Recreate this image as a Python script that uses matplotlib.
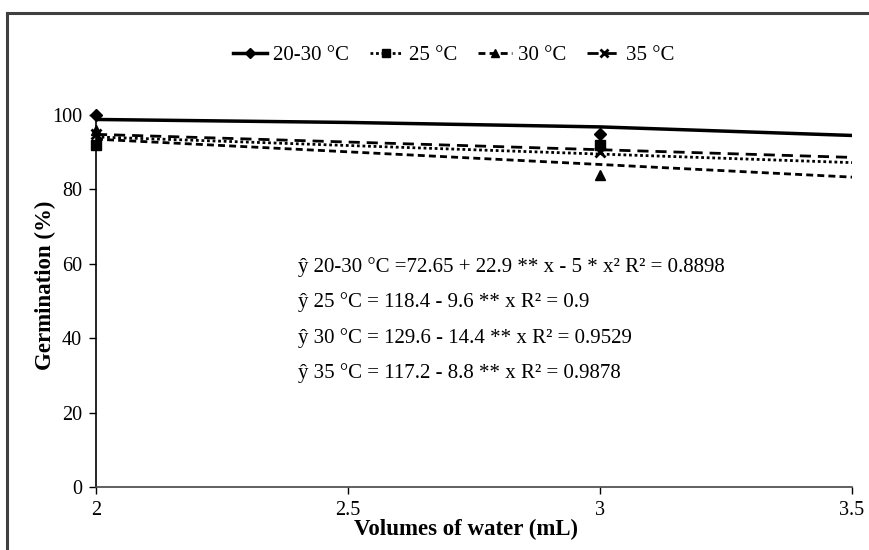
import matplotlib
matplotlib.use("Agg")
import matplotlib.pyplot as plt
from matplotlib.lines import Line2D

plt.rcParams["font.family"] = ["Liberation Serif", "DejaVu Serif"]

# observed germination (%) by volume of water (mL)
volumes = [2, 3]
germ_2030 = [100, 95]
germ_25 = [92, 92]
germ_30 = [96, 84]
germ_35 = [95, 90]

# trendlines
trend_x = [2, 2.5, 3, 3.5]
trend_2030 = [98.8, 98.0, 96.8, 94.5]
trend_x_lin = [2, 3.5]
trend_25 = [94.1, 87.2]
trend_30 = [93.5, 83.3]
trend_35 = [94.8, 88.6]

labels = ["20-30 °C", "25 °C", "30 °C", "35 °C"]
equations = [
    "ŷ 20-30 °C =72.65 + 22.9 ** x - 5 * x² R² = 0.8898",
    "ŷ 25 °C = 118.4 - 9.6 ** x R² = 0.9",
    "ŷ 30 °C = 129.6 - 14.4 ** x R² = 0.9529",
    "ŷ 35 °C = 117.2 - 8.8 ** x R² = 0.9878",
]

W, H = 869, 550
fig = plt.figure(figsize=(W / 100, H / 100), dpi=100)
ax = fig.add_axes([96 / W, 1 - 487 / H, (852 - 96) / W, (487 - 115) / H])

styles = [
    dict(ls="-", lw=2.5, marker="D", ms=6),
    dict(ls=(0, (1, 1.0)), lw=2.0, marker="s", ms=7),
    dict(ls=(0, (2.5, 1.5)), lw=2.0, marker="^", ms=7),
    dict(ls=(0, (4, 2.5)), lw=2.0, marker="x", ms=7),
]

ax.plot(trend_x, trend_2030, color="black", ls=styles[0]["ls"], lw=styles[0]["lw"])
ax.plot(trend_x_lin, trend_25, color="black", ls=styles[1]["ls"], lw=styles[1]["lw"])
ax.plot(trend_x_lin, trend_30, color="black", ls=styles[2]["ls"], lw=styles[2]["lw"])
ax.plot(trend_x_lin, trend_35, color="black", ls=styles[3]["ls"], lw=styles[3]["lw"])

for ys, st in zip([germ_2030, germ_25, germ_30, germ_35], styles):
    ax.plot(volumes, ys, ls="none", marker=st["marker"], ms=st["ms"],
            color="black", mew=2 if st["marker"] == "x" else 1, clip_on=False, zorder=5)

ax.set_xlim(2, 3.5)
ax.set_ylim(0, 100)
ax.set_xticks([2, 2.5, 3, 3.5])
ax.set_xticklabels(["2", "2.5", "3", "3.5"])
ax.set_yticks([0, 20, 40, 60, 80, 100])
ax.tick_params(direction="out", length=5, width=1, labelsize=14.5, pad=5)
for s in ["top", "right"]:
    ax.spines[s].set_visible(False)
ax.spines["left"].set_linewidth(1.2)
ax.spines["bottom"].set_linewidth(1.2)
ax.spines["bottom"].set_color("#444444")

ax.set_xlabel("Volumes of water (mL)", fontsize=16.5, fontweight="bold")
ax.set_ylabel("Germination (%)", fontsize=16.5, fontweight="bold")
ax.xaxis.set_label_coords((466 - 96) / 756, (487 - 529) / 372)
ax.yaxis.set_label_coords((45 - 96) / 756, (487 - 285) / 372)
ax.xaxis.label.set_va("center")
ax.yaxis.label.set_va("center")

for i, eq in enumerate(equations):
    fig.text(298 / W, 1 - (267 + i * 35.5) / H, eq, fontsize=15, va="center", ha="left")

handles = [Line2D([], [], color="black", ls=st["ls"], lw=st["lw"], marker=st["marker"],
                  ms=st["ms"] - 1, mew=2 if st["marker"] == "x" else 1)
           for st in styles]
fig.legend(handles, labels, loc="center", bbox_to_anchor=(454 / W, 1 - 55 / H), ncol=4,
           frameon=False, fontsize=15, handlelength=1.6, handletextpad=0.3,
           columnspacing=1.0)

# chart area border (cropped at right and bottom)
fig.add_artist(Line2D([7 / W, 1], [1 - 13 / H, 1 - 13 / H], color="#404040", lw=2.2))
fig.add_artist(Line2D([7 / W, 7 / W], [0, 1 - 13 / H], color="#404040", lw=2.2))

fig.savefig("out.png", dpi=100)
